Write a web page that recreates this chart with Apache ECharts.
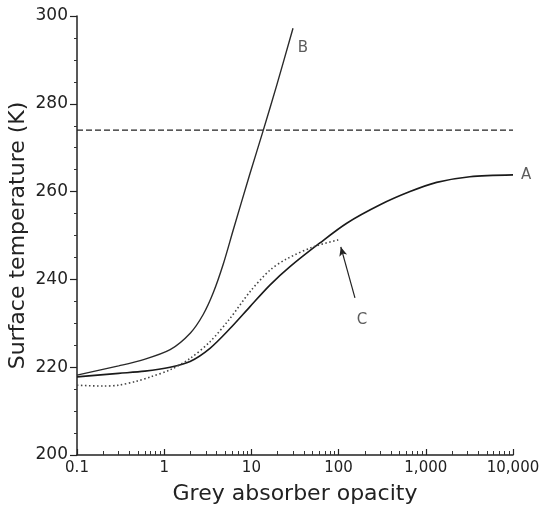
<!DOCTYPE html>
<html>
<head>
<meta charset="utf-8">
<script src="https://cdn.jsdelivr.net/npm/echarts@6/dist/echarts.min.js"></script>
<style>html,body{margin:0;padding:0;background:#fff;}#c{width:547px;height:510px;}</style>
</head>
<body>
<div id="c"></div>
<script>
// Curve A (solid)
const aOpacity = [0.1, 0.3, 0.6, 1.17, 1.98, 3.35, 5.68, 9.64, 16.3, 27.7, 61, 124, 299, 659, 1330, 3200, 10000];
const aTemp    = [217.8, 218.6, 219.1, 220.0, 221.3, 224.3, 228.8, 233.8, 238.7, 242.9, 248.3, 252.8, 257.0, 260.0, 262.1, 263.4, 263.8];
// Curve B (solid, steep)
const bOpacity = [0.1, 0.3, 0.53, 1.17, 2.0, 2.8, 3.66, 4.76, 6.2, 9.6, 13.7, 19.5, 30];
const bTemp    = [218.2, 220.3, 221.5, 224.0, 227.8, 232.0, 237.0, 243.5, 251.3, 264.0, 274.0, 284.2, 297.2];
// Curve C (dotted)
const cOpacity = [0.1, 0.2, 0.3, 0.48, 0.7, 1.17, 1.98, 3.35, 5.68, 9.64, 16.3, 25, 51, 99];
const cTemp    = [215.9, 215.7, 215.9, 216.8, 217.8, 219.4, 222.0, 225.8, 231.1, 237.2, 242.1, 244.6, 247.4, 249.0];
// Dashed reference temperature
const refTemp = 274;
const refRange = [0.1, 10000];
// Axis ticks
const xMajorTicks = [0.1, 1, 10, 100, 1000, 10000];
const xMinorTicks = [];
for (const d of [0.1, 1, 10, 100, 1000]) for (let k = 2; k <= 9; k++) xMinorTicks.push(+(d * k).toPrecision(6));
// Curve labels
const labelNames = ['A', 'B', 'C'];
const labelOpacity = [10000, 39, 185];
const labelTemp = [263.8, 292.7, 230.8];
// Arrow for C (from, to)
const arrowFrom = [154, 235.8];
const arrowTo = [106, 247.4];

const pair = (xs, ys) => xs.map((x, i) => [x, ys[i]]);
const fmtX = v => {
  const n = +(+v).toPrecision(6);
  if (n >= 1000) return String(n).replace(/\B(?=(\d{3})+(?!\d))/g, ',');
  return String(n);
};

const font = 'DejaVu Sans';
const chart = echarts.init(document.getElementById('c'), null, {renderer: 'canvas'});
chart.setOption({
  backgroundColor: '#fff',
  animation: false,
  grid: {left: 77, right: 34, top: 16, bottom: 55, containLabel: false, outerBoundsMode: 'none'},
  xAxis: [{
    type: 'log', logBase: 10, min: 0.1, max: 10000,
    name: 'Grey absorber opacity', nameLocation: 'middle', nameGap: 28, nameMoveOverlap: false,
    nameTextStyle: {fontFamily: font, fontSize: 22, color: '#222'},
    axisLine: {show: true, lineStyle: {color: '#222', width: 1.5}},
    axisTick: {show: true, inside: true, length: 6, lineStyle: {color: '#222', width: 1.2}, customValues: xMajorTicks},
    axisLabel: {fontFamily: font, fontSize: 15, color: '#222', margin: 6, formatter: fmtX, customValues: xMajorTicks},
    splitLine: {show: false}
  }, {
    type: 'log', logBase: 10, min: 0.1, max: 10000, position: 'bottom',
    axisLine: {show: false},
    axisTick: {show: true, inside: true, length: 4, lineStyle: {color: '#333', width: 1}, customValues: xMinorTicks},
    axisLabel: {show: false},
    splitLine: {show: false}
  }],
  yAxis: {
    type: 'value', min: 200, max: 300, interval: 20,
    name: 'Surface temperature (K)', nameLocation: 'middle', nameGap: 48, nameMoveOverlap: false,
    nameTextStyle: {fontFamily: font, fontSize: 22, color: '#222'},
    axisLine: {show: true, lineStyle: {color: '#222', width: 1.5}},
    axisTick: {show: true, length: 7, lineStyle: {color: '#222', width: 1.2}},
    minorTick: {show: true, splitNumber: 4, length: 3, lineStyle: {color: '#333', width: 1}},
    axisLabel: {fontFamily: font, fontSize: 17, color: '#222', margin: 9},
    splitLine: {show: false}
  },
  series: [
    {
      name: 'A', type: 'line', data: pair(aOpacity, aTemp), smooth: 0.3, showSymbol: false,
      lineStyle: {color: '#1a1a1a', width: 1.6}
    },
    {
      name: 'B', type: 'line', data: pair(bOpacity, bTemp), smooth: 0.3, showSymbol: false,
      lineStyle: {color: '#2a2a2a', width: 1.4}
    },
    {
      name: 'C', type: 'line', data: pair(cOpacity, cTemp), smooth: 0.3, showSymbol: false,
      lineStyle: {color: '#444', width: 1.6, type: [1.5, 2.5]},
      markLine: {
        silent: true, symbol: ['none', 'arrow'], symbolSize: [6, 9],
        label: {show: false},
        lineStyle: {color: '#222', width: 1.2, type: 'solid'},
        data: [[{coord: arrowFrom}, {coord: arrowTo}]]
      }
    },
    {
      name: 'ref', type: 'line', data: pair(refRange, [refTemp, refTemp]), showSymbol: false,
      lineStyle: {color: '#222', width: 1.4, type: [6, 3]}
    },
    {
      name: 'labels', type: 'scatter', symbolSize: 0, clip: false, silent: true,
      data: labelNames.map((n, i) => ({
        value: [labelOpacity[i], labelTemp[i]], name: n,
        label: {show: true, formatter: n, position: i === 0 ? 'right' : 'inside', distance: 8,
          fontFamily: font, fontSize: 15, color: '#333'}
      }))
    }
  ]
});
</script>
</body>
</html>
